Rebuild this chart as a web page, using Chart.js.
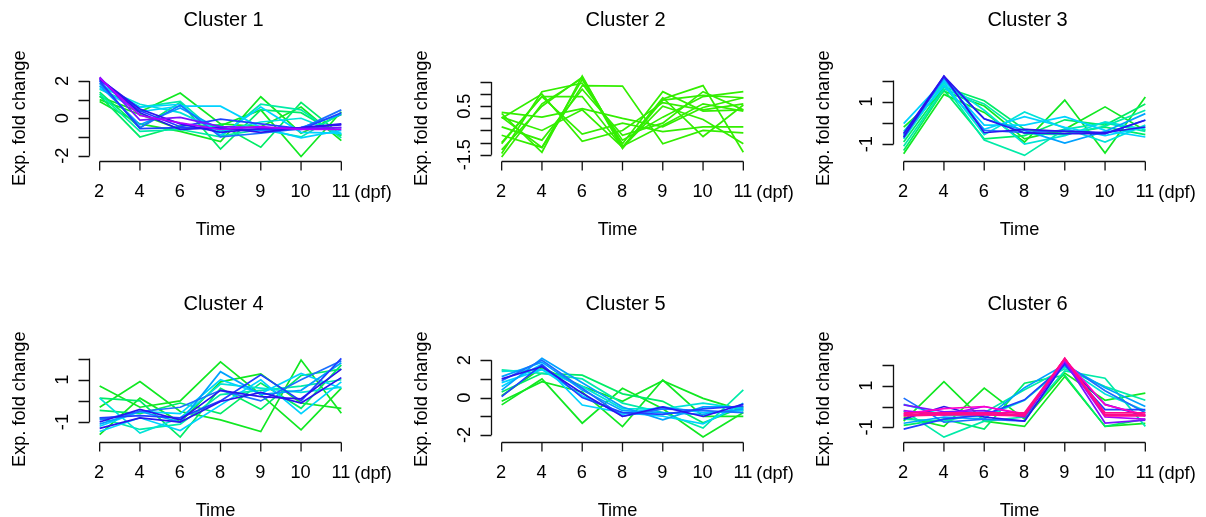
<!DOCTYPE html>
<html>
<head>
<meta charset="utf-8">
<script src="https://cdn.jsdelivr.net/npm/chart.js@4.4.1/dist/chart.umd.min.js"></script>
<style>
  body { margin: 0; background: #fff; width: 1206px; height: 517px; overflow: hidden; position: relative; }
  canvas { position: absolute; }
</style>
</head>
<body>
<canvas id="c1" width="402" height="258" style="left:0px;top:0px"></canvas>
<canvas id="c2" width="402" height="258" style="left:402px;top:0px"></canvas>
<canvas id="c3" width="402" height="258" style="left:804px;top:0px"></canvas>
<canvas id="c4" width="402" height="236" style="left:0px;top:281px"></canvas>
<canvas id="c5" width="402" height="236" style="left:402px;top:281px"></canvas>
<canvas id="c6" width="402" height="236" style="left:804px;top:281px"></canvas>
<script>
// time points (dpf)
const timeLabels = ['2', '4', '6', '8', '9', '10', '11'];

// one row per gene, values at each time point; member = membership class (0 low .. 13 high)
const cluster1Lines = [
  [0.9, -0.3, -0.7, -1.25, 1.15, -0.8, 0.2],
  [1.0, 0.2, -0.6, -0.4, 0.45, -2.05, 0.35],
  [1.15, 0.35, 1.35, -0.3, -0.45, 0.6, -1.2],
  [1.2, -1.0, -0.4, -0.35, -1.55, 0.85, -0.9],
  [1.4, -0.5, 0.85, -1.65, 0.45, 0.3, -0.95],
  [1.3, -0.7, -0.6, -1.0, 0.75, 0.45, -1.05],
  [1.55, 0.6, 0.9, -0.95, -0.6, -1.0, 0.25],
  [1.7, 0.75, 0.3, -0.7, -0.2, 0.0, -0.85],
  [1.6, 0.35, 0.65, 0.65, -0.5, -1.05, -0.65],
  [1.85, 0.6, 0.75, -0.9, 0.6, -0.75, -0.8],
  [1.75, -0.35, 0.55, -0.6, -0.65, -0.5, 0.2],
  [1.9, -0.5, 0.7, -1.0, -0.8, -0.55, 0.45],
  [2.0, -0.55, -0.5, -0.55, -0.6, -0.6, 0.3],
  [2.05, 0.4, -0.45, -0.05, -0.3, -0.55, -0.5],
  [2.1, 0.5, -0.3, -0.75, -0.55, -0.5, -0.3],
  [2.15, 0.3, -0.6, -0.5, -0.75, -0.5, -0.35],
  [2.2, -0.1, 0.05, -0.45, -0.5, -0.55, -0.5],
  [2.15, 0.15, -0.25, -0.6, -0.45, -0.6, -0.6]
];
const cluster1Member = [1, 1, 1, 2, 2, 3, 3, 4, 5, 5, 6, 7, 8, 8, 9, 9, 10, 11];

const cluster2Lines = [
  [0.2, -1.4, 1.75, -1.2, 0.8, 1.35, -1.4],
  [0.05, -1.2, 1.6, -1.05, 1.1, 0.3, 0.35],
  [-1.6, 0.6, 1.65, -1.25, 0.75, 0.95, 0.85],
  [-1.45, 1.1, 1.45, -0.9, 0.05, 0.9, 1.1],
  [-1.0, 0.9, 0.9, -1.2, 0.85, -0.75, 0.55],
  [-0.7, -1.2, 1.35, 1.33, -1.05, -0.5, -0.6],
  [0.25, 0.05, 0.4, 0.0, -0.35, 0.45, 0.85],
  [-1.05, 0.9, -0.65, -0.2, -0.55, -0.35, -0.35],
  [0.0, 1.0, -0.95, -0.5, 0.65, 0.35, 0.6],
  [0.05, -0.5, 0.35, -1.2, 0.5, -0.05, -1.05],
  [-1.3, 0.5, 1.7, -1.15, -0.3, 0.6, 0.3],
  [-0.35, -0.9, 1.2, -0.7, -0.2, 1.1, 0.35]
];
const cluster2Member = [0, 0, 0, 0, 0, 0, 0, 0, 0, 0, 0, 0];

const cluster3Lines = [
  [-1.45, 1.35, 0.5, -0.9, 1.08, -1.42, 1.23],
  [-0.2, 1.5, 0.8, -0.75, -0.3, 0.76, -0.35],
  [-1.3, 1.55, -0.75, -0.6, 0.15, -0.1, 0.9],
  [-0.9, 1.7, 1.05, -0.3, -0.5, -0.2, -0.55],
  [-0.6, 1.8, -0.8, -1.53, -0.3, 0.0, -0.4],
  [-1.1, 1.6, 0.9, -0.5, -0.55, -0.15, 0.6],
  [-0.75, 1.9, -0.55, 0.52, -0.25, -0.9, -0.1],
  [-0.4, 1.95, 0.6, -1.0, -0.6, 0.05, -0.3],
  [-0.03, 2.0, -0.1, -0.1, 0.3, -0.35, -0.66],
  [-0.5, 1.75, -0.3, 0.3, -0.2, -0.6, -0.2],
  [-0.55, 2.1, 0.2, -0.35, -0.95, -0.4, 0.44],
  [-0.7, 2.15, -0.35, -0.45, -0.35, -0.5, 0.14],
  [-0.66, 2.21, 0.2, -0.47, -0.5, -0.5, 0.13],
  [-0.5, 2.2, -0.46, -0.3, -0.4, -0.45, -0.19]
];
const cluster3Member = [1, 1, 2, 2, 3, 3, 4, 4, 5, 5, 6, 7, 9, 9];

const cluster4Lines = [
  [0.71, -0.3, 0.0, 1.85, 0.3, -1.37, 0.6],
  [-0.3, 0.91, -0.5, -0.9, -1.45, 1.93, -0.58],
  [-1.6, 0.13, -1.0, 0.9, 1.28, -0.1, -0.35],
  [0.13, 0.0, -1.71, 0.6, -0.4, 1.2, 1.5],
  [-0.45, -0.6, -0.1, -0.6, 0.85, -0.35, 1.7],
  [-0.8, -1.35, -1.1, 0.3, 0.5, 0.7, 1.0],
  [0.13, -1.52, -0.8, 0.8, 0.6, 0.4, 0.65],
  [-1.45, -0.8, -1.4, -0.2, 1.0, -0.6, 0.9],
  [-1.2, -0.5, -0.6, 1.0, 0.35, 1.3, 0.6],
  [-1.1, -0.5, -1.0, 1.38, 0.3, 0.5, 1.8],
  [-0.9, -0.5, -0.3, 0.5, 0.0, 1.0, 1.9],
  [-0.8, -0.7, -0.8, 0.0, 1.23, 0.0, 2.01],
  [-1.0, -0.4, -0.9, 0.5, 0.2, 0.1, 1.5],
  [-1.3, -0.8, -1.0, -0.03, 0.4, -0.1, 1.1]
];
const cluster4Member = [1, 1, 1, 2, 2, 3, 4, 5, 5, 6, 7, 8, 9, 9];

const cluster5Lines = [
  [-0.2, 0.85, 0.3, -1.55, 0.94, -1.0, -1.01],
  [-0.39, 1.0, -1.37, 0.5, -0.6, -2.11, -0.8],
  [0.1, 1.6, 0.6, -0.2, 0.9, -0.04, -0.7],
  [0.3, 1.3, 1.2, 0.2, -0.2, -1.35, -0.5],
  [1.48, 1.3, 1.0, -0.3, -0.8, -1.63, 0.41],
  [1.4, 1.5, 0.6, -0.6, -0.6, -0.3, -0.6],
  [0.6, 1.8, -0.4, -0.8, -1.0, -1.4, -0.3],
  [0.8, 1.5, 0.1, -0.9, -0.5, -0.8, -0.7],
  [0.4, 2.1, 0.8, -0.5, -1.19, -0.5, -0.5],
  [1.12, 1.9, 0.4, -0.7, -0.8, -0.9, -0.6],
  [0.9, 2.0, 0.5, -1.0, -0.6, -0.7, -0.8],
  [0.05, 1.75, 0.0, -0.8, -0.9, -0.6, -0.45],
  [1.0, 1.65, 0.23, -1.01, -0.5, -1.01, -0.35]
];
const cluster5Member = [1, 1, 1, 2, 3, 4, 5, 5, 6, 6, 7, 8, 9];

const cluster6Lines = [
  [-0.7, 1.19, -0.7, -0.95, 1.43, -0.95, -0.8],
  [-0.5, -0.95, 0.88, -0.6, 1.6, 0.3, 0.64],
  [-0.9, -0.6, -1.08, 1.11, 1.5, -0.95, -0.6],
  [-0.2, -1.46, -0.7, -0.5, 1.7, 1.35, -0.95],
  [-0.6, -0.7, -0.3, 0.8, 1.8, 0.95, 0.3],
  [0.1, -0.4, -0.5, 0.3, 1.9, 0.6, -0.2],
  [-0.8, -0.5, -0.6, 0.9, 2.0, 0.9, 0.0],
  [0.4, -0.75, -0.6, -0.7, 2.05, 0.75, -0.3],
  [-1.08, -0.6, -0.4, 0.32, 1.99, -0.15, -0.15],
  [-0.6, 0.0, -0.5, -0.7, 2.1, 0.1, -0.45],
  [0.08, -0.25, -0.2, -0.5, 2.15, -0.79, -0.65],
  [-0.2, -0.4, 0.0, -0.4, 2.2, -0.5, -0.6],
  [-0.35, -0.1, 0.0, -0.35, 2.25, 0.08, -0.4],
  [-0.4, -0.35, -0.35, -0.4, 2.3, -0.4, -0.4],
  [-0.45, -0.4, -0.4, -0.45, 2.3, -0.45, -0.45],
  [-0.3, -0.3, -0.3, -0.3, 2.28, -0.3, -0.3]
];
const cluster6Member = [1, 1, 2, 3, 3, 4, 6, 7, 8, 9, 10, 11, 12, 13, 13, 13];

// membership colour scale, green (low) -> blue -> pink (high)
const memberColors = [
  '#33ee00', '#11e822', '#00ec66', '#00eba8', '#00e3d8', '#00d2ff', '#00a2ff',
  '#1a70ff', '#1f40ff', '#2a14ee', '#7a12ff', '#b000ff', '#ff00cc', '#ff0a8c'
];

const panels = [
  { id: 'c1', title: 'Cluster 1', lines: cluster1Lines, member: cluster1Member,
    yMin: -2.26, yMax: 2.37, yTicks: [-2, -1, 0, 1, 2], yLabels: ['-2', '0', '2'] },
  { id: 'c2', title: 'Cluster 2', lines: cluster2Lines, member: cluster2Member,
    yMin: -1.74, yMax: 1.83, yTicks: [-1.5, -1, -0.5, 0, 0.5, 1, 1.5], yLabels: ['-1.5', '0.5'] },
  { id: 'c3', title: 'Cluster 3', lines: cluster3Lines, member: cluster3Member,
    yMin: -1.77, yMax: 2.31, yTicks: [-1, 0, 1, 2], yLabels: ['-1', '1'] },
  { id: 'c4', title: 'Cluster 4', lines: cluster4Lines, member: cluster4Member,
    yMin: -1.92, yMax: 2.17, yTicks: [-1, 0, 1, 2], yLabels: ['-1', '1'] },
  { id: 'c5', title: 'Cluster 5', lines: cluster5Lines, member: cluster5Member,
    yMin: -2.35, yMax: 2.28, yTicks: [-2, -1, 0, 1, 2], yLabels: ['-2', '0', '2'] },
  { id: 'c6', title: 'Cluster 6', lines: cluster6Lines, member: cluster6Member,
    yMin: -1.67, yMax: 2.46, yTicks: [-1, 0, 1, 2], yLabels: ['-1', '1'] }
];

const FONT = '"Liberation Sans", Arial, sans-serif';

// R style axes, titles and labels, placed with the chart's own scales
const rAxes = {
  id: 'rAxes',
  afterDraw(chart, args, opts) {
    const { ctx, chartArea, scales: { x, y } } = chart;
    const midX = (chartArea.left + chartArea.right) / 2;
    const midY = (chartArea.top + chartArea.bottom) / 2;
    ctx.save();
    ctx.strokeStyle = '#111';
    ctx.fillStyle = '#000';
    ctx.lineWidth = 1.3;

    // x axis
    const xb = Math.round(chartArea.bottom) + 0.5;
    ctx.beginPath();
    ctx.moveTo(x.getPixelForValue(1), xb);
    ctx.lineTo(x.getPixelForValue(timeLabels.length), xb);
    timeLabels.forEach((t, i) => {
      const px = x.getPixelForValue(i + 1);
      ctx.moveTo(px, xb);
      ctx.lineTo(px, xb + 9);
    });
    // y axis
    const yl = Math.round(chartArea.left) - 0.5;
    const ticks = opts.yTicks;
    ctx.moveTo(yl, y.getPixelForValue(ticks[0]));
    ctx.lineTo(yl, y.getPixelForValue(ticks[ticks.length - 1]));
    ticks.forEach(v => {
      const py = Math.round(y.getPixelForValue(v)) + 0.5;
      ctx.moveTo(yl, py);
      ctx.lineTo(yl - 11, py);
    });
    ctx.stroke();

    ctx.font = '18.2px ' + FONT;
    ctx.textBaseline = 'alphabetic';
    ctx.textAlign = 'center';
    timeLabels.forEach((t, i) => {
      ctx.fillText(t, x.getPixelForValue(i + 1) - 0.5, xb + 35.5);
    });
    ctx.textAlign = 'left';
    ctx.fillText('(dpf)', x.getPixelForValue(timeLabels.length) + 13, xb + 36);
    ctx.textAlign = 'center';
    ctx.fillText('Time', midX - 5, xb + 73.5);

    // rotated y tick labels
    opts.yLabels.forEach(lab => {
      ctx.save();
      ctx.translate(yl - 21.5, y.getPixelForValue(parseFloat(lab)));
      ctx.rotate(-Math.PI / 2);
      ctx.fillText(lab, 0, 0);
      ctx.restore();
    });
    ctx.save();
    ctx.translate(25, midY + 1);
    ctx.rotate(-Math.PI / 2);
    ctx.fillText('Exp. fold change', 0, 0);
    ctx.restore();

    ctx.font = '20px ' + FONT;
    ctx.fillText(opts.title, midX + 3, opts.titleY);
    ctx.restore();
  }
};

panels.forEach((p, idx) => {
  const canvas = document.getElementById(p.id);
  const h = canvas.height;
  new Chart(canvas, {
    type: 'line',
    data: {
      datasets: p.lines.map((vals, i) => ({
        data: vals.map((v, k) => ({ x: k + 1, y: v })),
        borderColor: memberColors[p.member[i]],
        borderWidth: 1.7,
        pointRadius: 0,
        tension: 0,
        fill: false,
        order: p.lines.length - i
      }))
    },
    options: {
      responsive: false,
      animation: false,
      devicePixelRatio: 1,
      events: [],
      layout: { padding: { left: 90, right: 51, top: 74, bottom: h - 160.5 } },
      scales: {
        x: { type: 'linear', display: false, min: 0.76, max: 7.24 },
        y: { type: 'linear', display: false, min: p.yMin, max: p.yMax }
      },
      plugins: {
        legend: { display: false },
        tooltip: { enabled: false },
        rAxes: { title: p.title, titleY: idx < 3 ? 26 : 29, yTicks: p.yTicks, yLabels: p.yLabels }
      }
    },
    plugins: [rAxes]
  });
});
</script>
</body>
</html>
